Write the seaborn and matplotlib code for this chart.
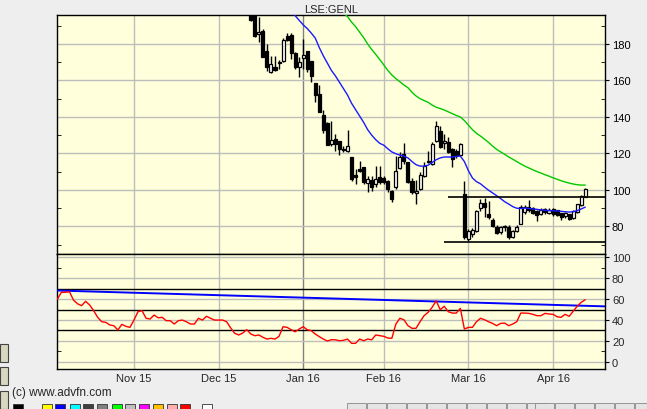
import numpy as np
import pandas as pd
import matplotlib
matplotlib.use("Agg")
import matplotlib.pyplot as plt
from matplotlib.patches import Rectangle
from matplotlib.ticker import MultipleLocator
import seaborn as sns

# ---------------- data ----------------
holidays = ['2015-12-25', '2015-12-28', '2016-01-01', '2016-03-25', '2016-03-28']
first_day, last_day = '2015-10-06', '2016-04-20'
candle_start = '2015-12-11'

open_ = [199.0, 197.5, 185.3, 187.1, 176.3, 164.5, 167.4, 169.8, 170.5, 184.2, 185.0, 175.1, 167.5,
         172.2, 176.3, 170.7, 158.6, 152.6, 141.0, 136.7, 125.1, 127.9, 126.6, 121.8, 121.1, 117.8, 108.3,
         111.4, 112.4, 103.8, 105.6, 103.2, 106.9,
         106.5, 105.0, 99.5, 101.4, 111.8, 119.7, 115.1, 105.0, 98.3, 100.5, 107.8, 115.6, 114.2, 127.0,
         132.4, 125.5, 126.1, 122.4, 121.3, 119.1, 97.7,
         73.0, 75.9, 77.3, 89.9, 92.6, 86.7, 83.5, 79.8, 76.7, 79.6, 79.8, 74.0, 77.6, 81.3, 87.7, 90.4,
         89.9, 88.6, 86.7, 89.5, 87.5,
         89.3, 88.9, 87.1, 85.5, 86.5, 84.5, 88.0, 91.5, 96.2]
high = [201.0, 199.0, 194.6, 188.2, 180.0, 173.6, 173.3, 171.4, 183.5, 185.9, 186.1, 175.5, 172.7,
        182.7, 176.3, 170.7, 158.8, 157.5, 143.8, 137.0, 137.9, 130.5, 127.0, 124.0, 133.0, 118.0, 111.4,
        116.0, 112.6, 107.8, 107.8, 112.9, 112.9,
        107.5, 105.5, 100.0, 118.7, 120.6, 125.5, 115.5, 106.5, 105.4, 110.0, 115.1, 121.5, 126.0, 137.9,
        135.0, 130.6, 129.0, 123.0, 122.5, 125.5, 105.0,
        78.5, 79.0, 89.0, 95.0, 95.5, 94.0, 84.5, 80.5, 80.0, 80.8, 80.8, 78.0, 80.5, 91.5, 91.5, 94.6,
        90.5, 89.0, 90.0, 90.0, 89.8,
        90.0, 89.2, 87.5, 87.8, 87.0, 89.0, 92.5, 97.0, 101.0]
low = [192.5, 184.0, 181.3, 172.7, 165.4, 164.1, 165.0, 166.3, 170.0, 181.5, 171.8, 166.3, 162.1,
       166.3, 164.8, 159.0, 148.0, 142.5, 131.0, 124.5, 124.2, 121.5, 119.1, 120.6, 120.9, 105.0, 103.2,
       109.6, 103.2, 98.7, 99.5, 101.4, 103.2,
       103.2, 99.0, 93.2, 100.5, 111.5, 114.2, 103.5, 97.7, 92.2, 100.0, 106.9, 114.8, 113.5, 126.0,
       123.0, 122.4, 120.3, 112.4, 117.5, 118.5, 73.0,
       72.0, 74.0, 77.0, 88.6, 85.0, 84.0, 79.5, 75.8, 76.0, 77.6, 73.0, 73.5, 77.0, 81.0, 87.0, 87.7,
       86.5, 83.0, 86.0, 87.0, 87.0,
       85.6, 85.8, 83.5, 84.8, 83.5, 84.0, 87.5, 91.0, 96.0]
close = [193.3, 184.6, 186.4, 173.0, 167.5, 169.0, 165.6, 170.2, 182.4, 182.4, 174.9, 167.2, 170.3,
         174.0, 166.3, 162.3, 152.2, 142.9, 133.0, 124.8, 127.3, 125.1, 122.4, 122.0, 123.9, 105.9, 106.9,
         110.2, 104.1, 106.0, 101.4, 106.0, 104.5,
         104.5, 100.5, 95.0, 110.5, 117.8, 116.0, 104.1, 98.7, 99.5, 108.1, 112.9, 115.2, 125.1, 135.2,
         123.3, 127.0, 120.6, 116.9, 119.1, 125.1, 74.0,
         77.6, 78.0, 88.6, 92.6, 90.4, 85.0, 80.3, 76.2, 79.5, 79.9, 74.0, 77.6, 79.8, 90.8, 90.8, 89.0,
         87.2, 86.0, 89.0, 87.7, 89.2,
         86.7, 86.4, 85.0, 87.2, 84.0, 88.6, 92.2, 96.5, 100.5]

ma_short_start = '2015-12-29'
ma_short = [198.0, 195.5, 193.0,
            190.5, 188.5, 186.0, 183.2, 178.0, 173.5, 169.5, 165.5, 162.5, 159.0, 155.5, 152.0, 147.5,
            144.0, 140.5, 137.0, 133.0, 130.0, 127.5, 125.5,
            124.5, 122.5, 120.8, 119.8, 119.0, 118.5, 117.5, 115.5, 113.8, 113.0, 113.0, 113.5, 115.0,
            116.5, 117.5, 118.0, 118.0, 118.0, 118.3, 118.5, 115.5,
            110.5, 106.5, 104.5, 103.3, 101.5, 99.8, 98.3, 96.8, 95.2, 93.5, 92.2, 90.8, 89.9, 89.8,
            90.0, 89.8, 89.5, 89.3, 89.0, 88.8, 88.6,
            88.5, 88.4, 88.2, 88.0, 87.8, 88.0, 88.6, 89.5, 90.5]

ma_long_start = '2016-01-15'
ma_long = [199.5, 197.0, 195.0, 192.0, 189.5, 186.5, 183.5, 180.0, 177.0, 174.3, 171.5,
           168.5, 165.5, 163.0, 161.0, 159.3, 157.5, 156.0, 153.5, 151.5, 150.0, 149.0, 148.0, 146.5,
           145.3, 144.6, 143.8, 142.8, 141.8, 140.8, 140.0, 138.0,
           135.5, 133.0, 131.0, 129.5, 127.8, 126.0, 124.0, 122.2, 120.8, 119.5, 118.0, 116.8, 115.5,
           114.2, 113.0, 112.0, 111.0, 110.0, 109.2, 108.3, 107.5,
           106.6, 105.8, 105.0, 104.3, 103.7, 103.2, 102.8, 102.6, 102.6]

rsi = [60.0, 66.5, 66.5, 67.0, 59.0, 55.5, 53.7, 57.9, 54.3, 48.9, 42.5, 38.3, 37.7, 35.2, 34.5,
       30.4, 35.8, 33.9, 32.9, 39.9, 47.9, 48.9, 41.6, 40.9, 44.7, 42.1, 42.5, 39.3, 39.3, 36.1,
       39.3, 39.9, 38.3, 36.1, 36.1, 41.6, 39.9, 43.5, 41.6, 39.9, 39.9, 39.9, 38.3, 32.3, 27.2,
       25.6, 27.5, 30.7, 26.5, 24.9, 25.6, 23.4, 21.7, 22.4, 21.7, 24.3, 33.5, 32.9, 30.7, 28.7,
       31.3, 33.5, 30.7, 29.7, 26.5, 24.0, 21.7, 19.8, 21.1, 21.0, 20.1, 20.5, 21.7, 17.6, 17.6,
       21.7, 20.1, 21.7, 21.0, 25.6, 25.0, 24.3, 22.7, 22.4, 36.1, 41.6, 40.2, 34.5, 32.0, 32.0,
       38.3, 44.1, 47.3, 52.1, 58.4, 49.8, 53.1, 47.9, 46.6, 46.6, 51.1, 31.3, 32.9, 32.9, 38.3,
       41.6, 40.2, 38.3, 36.7, 34.5, 36.7, 37.0, 34.5, 36.1, 38.3, 46.6, 46.6, 46.3, 45.4, 44.1,
       44.1, 46.3, 45.7, 45.4, 43.1, 42.5, 45.4, 43.5, 48.3, 53.1, 56.9, 59.4]

rsi_trend_dates = ['2015-10-06', '2016-04-20']
rsi_trend_values = [68.2, 53.0]

support_level, support_from = 71.5, '2016-02-22'
resist_level, resist_from = 96.0, '2016-02-23'

price_ticks = [80, 100, 120, 140, 160, 180]
rsi_ticks = [0, 20, 40, 60, 80, 100]
rsi_bands = [30, 50, 70]
month_labels = ['Nov 15', 'Dec 15', 'Jan 16', 'Feb 16', 'Mar 16', 'Apr 16']

# ---------------- trading calendar ----------------
days = pd.bdate_range(first_day, last_day)
days = days[~days.isin(pd.to_datetime(holidays))]
pos = {d: i for i, d in enumerate(days)}
P = lambda s: pos[pd.Timestamp(s)]

month_pos = [i for i in range(1, len(days)) if days[i].month != days[i - 1].month]

# ---------------- styling ----------------
sns.set_style("white")
plt.rcParams['font.family'] = ['Liberation Sans', 'DejaVu Sans']
BG = '#eeeeee'
PLOT_BG = '#ffffdc'
GRID = '#bdbdbd'

W, H = 647, 410
fig = plt.figure(figsize=(W / 100, H / 100), dpi=100, facecolor=BG)
L, R = 57, 605
ax = fig.add_axes([L / W, 1 - 255 / H, (R - L) / W, (255 - 16) / H])
ax2 = fig.add_axes([L / W, 1 - 370 / H, (R - L) / W, (370 - 255) / H], sharex=ax)
xlim = (-0.1, len(days) - 1.1)

for a in (ax, ax2):
    a.set_facecolor(PLOT_BG)
    for s in a.spines.values():
        s.set_color('black')
        s.set_linewidth(1.0)
    for i, m in enumerate(month_pos):
        a.axvline(m, color='#808080' if month_labels[i].startswith('Jan') else GRID, lw=1, zorder=0.5)

# ---------------- main price panel ----------------
ax.set_xlim(*xlim)
ax.set_ylim(64.8, 195.9)
for t in price_ticks:
    ax.axhline(t, color=GRID, lw=1, zorder=0.5)

c0 = P(candle_start)
cx = np.arange(c0, c0 + len(close))
o = np.array(open_); c = np.array(close); hi = np.array(high); lo = np.array(low)
up = c >= o
ax.vlines(cx, lo, hi, color='black', lw=1, zorder=2)
bottom = np.minimum(o, c)
height = np.maximum(np.abs(c - o), 0.5)
ax.bar(cx[up], height[up], bottom=bottom[up], width=0.75, facecolor='white',
       edgecolor='black', lw=0.9, zorder=3)
ax.bar(cx[~up], height[~up], bottom=bottom[~up], width=0.75, facecolor='black',
       edgecolor='black', lw=0.9, zorder=3)

s0 = P(ma_short_start)
sns.lineplot(x=np.arange(s0, s0 + len(ma_short)), y=ma_short, ax=ax, color='#1a1aff', lw=1.0, zorder=4)
g0 = P(ma_long_start)
sns.lineplot(x=np.arange(g0, g0 + len(ma_long)), y=ma_long, ax=ax, color='#00c800', lw=1.0, zorder=4)

ax.hlines(support_level, P(support_from), xlim[1], color='black', lw=1.2, zorder=5)
ax.hlines(resist_level, P(resist_from), xlim[1], color='black', lw=1.2, zorder=5)

ax.yaxis.set_major_locator(MultipleLocator(20))
ax.yaxis.set_minor_locator(MultipleLocator(10))
ax.set_yticks(price_ticks)
ax.yaxis.tick_right()
ax.tick_params(axis='y', which='major', right=True, left=False, direction='out', length=3,
               labelsize=8, pad=2, labelcolor='black', color='black')
ax.tick_params(axis='y', which='minor', right=True, left=True, direction='in', length=3, color='black')
ax.tick_params(axis='x', which='both', bottom=False, top=False, labelbottom=False)
ax.set_xlabel(''); ax.set_ylabel('')

# ---------------- RSI panel ----------------
ax2.set_ylim(-7.0, 103.2)
for t in rsi_ticks:
    ax2.axhline(t, color=GRID, lw=1, zorder=0.5)
for t in rsi_bands:
    ax2.axhline(t, color='black', lw=1, zorder=1)
sns.lineplot(x=[P(d) for d in rsi_trend_dates], y=rsi_trend_values, ax=ax2, color='#0000ff', lw=1.4, zorder=3)
sns.lineplot(x=np.arange(len(rsi)), y=rsi, ax=ax2, color='#ff0000', lw=1.0, zorder=4)
ax2.set_xlim(*xlim)
ax2.set_yticks(rsi_ticks)
ax2.yaxis.set_minor_locator(MultipleLocator(10))
ax2.yaxis.tick_right()
ax2.tick_params(axis='y', which='major', right=True, left=False, direction='out', length=3,
                labelsize=8, pad=2, color='black')
ax2.tick_params(axis='y', which='minor', right=True, left=True, direction='in', length=3, color='black')
ax2.set_xticks(month_pos)
ax2.set_xticklabels(month_labels)
ax2.tick_params(axis='x', which='both', bottom=False, length=0, labelsize=8, pad=3)
ax2.set_xlabel(''); ax2.set_ylabel('')

# ---------------- texts & decorations ----------------
fig.text((L + R) / 2 / W, 1 - 10 / H, 'LSE:GENL', ha='center', va='center', fontsize=8)
fig.text(12 / W, 1 - 393 / H, '(c) www.advfn.com', ha='left', va='center', fontsize=8.5)

swatches = [(13, '#000000'), (42, '#ffff00'), (55, '#0000ff'), (70, '#00ffff'), (83, '#404040'),
            (97, '#808080'), (112, '#00ff00'), (125, '#c0c0c0'), (139, '#ff00ff'), (153, '#ffc000'),
            (167, '#ffafaf'), (180, '#ff0000'), (202, '#ffffff')]
for sx, col in swatches:
    fig.patches.append(Rectangle((sx / W, 0), 10 / W, 5 / H, transform=fig.transFigure,
                                 facecolor=col, edgecolor='#333333', lw=0.6))
for bx in list(range(347, 530, 20)) + list(range(535, 647, 20)):
    fig.patches.append(Rectangle((bx / W, 0), 19 / W, 6 / H, transform=fig.transFigure,
                                 facecolor='#e4e4e4', edgecolor='#888888', lw=0.6))
for by in (345, 368, 392):
    fig.patches.append(Rectangle((0, 1 - (by + 18) / H), 8 / W, 18 / H, transform=fig.transFigure,
                                 facecolor='#d8d8c0', edgecolor='#444444', lw=0.8))

fig.savefig('out.png', dpi=100, facecolor=BG)
